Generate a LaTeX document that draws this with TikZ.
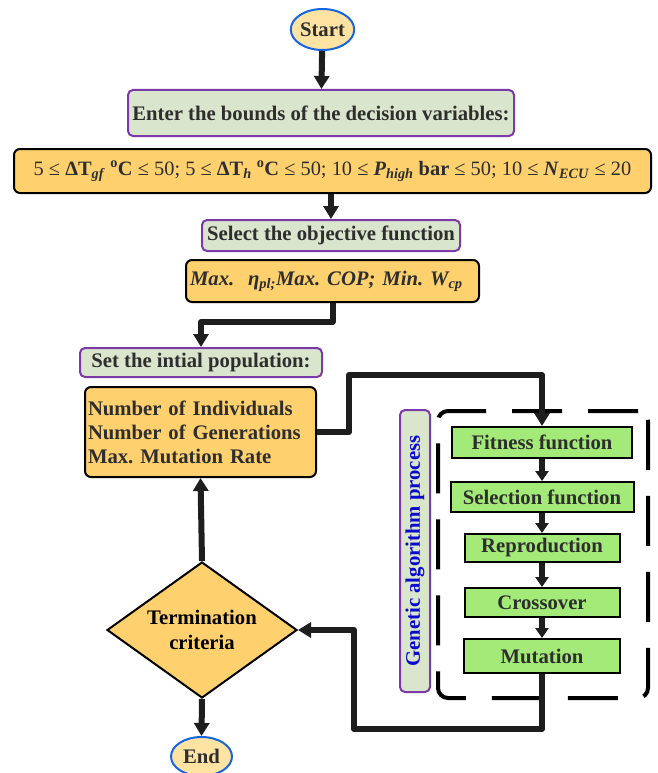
\documentclass[tikz,border=0pt]{standalone}
\usepackage{fontspec}
\setmainfont{Liberation Serif}
\usetikzlibrary{arrows.meta,shapes.geometric}
\definecolor{txt}{HTML}{2E2E2E}
\definecolor{termblue}{HTML}{1466E0}
\definecolor{termfill}{HTML}{FFE3A3}
\definecolor{hdrpurple}{HTML}{7A3BA6}
\definecolor{hdrgreen}{HTML}{D9E5CD}
\definecolor{orangefill}{HTML}{FFD06E}
\definecolor{gafill}{HTML}{A3EA78}
\definecolor{gablue}{HTML}{0A0ACC}
\definecolor{linecol}{HTML}{1E1E1E}
\newcommand{\fsz}{\fontsize{20.7}{24}\selectfont\frenchspacing}
\tikzset{
  base/.style={font=\fsz\bfseries, text=txt, inner sep=0pt, align=center},
  term/.style={base, ellipse, draw=termblue, line width=2pt, fill=termfill},
  hdr/.style={base, draw=hdrpurple, line width=2pt, fill=hdrgreen, rounded corners=5pt},
  obox/.style={base, draw=black, line width=2pt, fill=orangefill, rounded corners=6pt},
  gbox/.style={base, draw=black, line width=2pt, fill=gafill},
  conn/.style={draw=linecol, line width=6pt, line join=round, -{Triangle[width=15pt,length=13pt]}},
  sconn/.style={draw=linecol, line width=5.5pt, -{Triangle[width=13pt,length=10pt]}},
  gaframe/.style={draw=black, line width=4pt, dash pattern=on 50pt off 26pt, rounded corners=10pt},
}
\begin{document}
\begin{tikzpicture}[x=1pt,y=-1pt]
\useasboundingbox (0,0) rectangle (657,773);
% top part
\node[term, minimum width=63pt, minimum height=41pt] (start) at (322.5,29.5) {Start};
\node[hdr, minimum width=386pt, minimum height=46pt] (enter) at (321,113) {Enter the bounds of the decision variables:};
\node[obox, font=\fontsize{20.4}{24}\selectfont\frenchspacing\mdseries, minimum width=637pt, minimum height=44pt] (bounds) at (332.5,171)
  {5 ≤ \textbf{ΔT}\textsubscript{\textbf{\textit{gf}}} \textbf{\textsuperscript{o}C} ≤ 50; 5 ≤ \textbf{ΔT}\textsubscript{\textbf{\textit{h}}} \textbf{\textsuperscript{o}C} ≤ 50; 10 ≤ \textbf{\textit{P}}\textsubscript{\textbf{\textit{high}}} \textbf{bar} ≤ 50; 10 ≤ \textbf{\textit{N}}\textsubscript{\textbf{\textit{ECU}}} ≤ 20};
\node[hdr, minimum width=258pt, minimum height=31pt] (select) at (331,235.5) {Select the objective function};
\node[obox, minimum width=293pt, minimum height=42pt, text width=285pt, align=left] (max) at (332.5,281)
  {\textit{Max.\ \ η\textsubscript{pl;}Max. COP; Min. W\textsubscript{cp}}};
\node[hdr, minimum width=242pt, minimum height=29pt] (set) at (201,362.5) {Set the intial population:};
\node[obox, minimum width=231pt, minimum height=90pt, text width=225pt, align=left] (num) at (200.5,432)
  {Number of Individuals\\Number of Generations\\Max. Mutation Rate};
\node[obox, diamond, rounded corners=0pt, text=black, minimum width=190pt, minimum height=136pt, aspect=1.4, font=\fontsize{20.7}{25}\selectfont\bfseries] (dia) at (202,630) {Termination\\criteria};
\node[term, minimum width=61pt, minimum height=39pt] (end) at (201.5,756.5) {End};
% GA part
\node[gaframe, minimum width=210pt, minimum height=287pt] (frame) at (543,554.5) {};
\node[hdr, text=gablue, rotate=90, minimum width=282pt, minimum height=30pt] (label) at (415,551) {Genetic algorithm process};
\node[gbox, minimum width=180pt, minimum height=31pt] (fit) at (542,442.5) {Fitness function};
\node[gbox, minimum width=183pt, minimum height=30pt] (sel) at (542,497) {Selection function};
\node[gbox, minimum width=155pt, minimum height=28pt] (rep) at (542,548) {Reproduction};
\node[gbox, minimum width=155pt, minimum height=29pt] (cro) at (542,602.5) {Crossover};
\node[gbox, minimum width=156pt, minimum height=34pt] (mut) at (542,656) {Mutation};
% helper coordinates
\coordinate (c1) at (349,375);
\coordinate (c2) at (354,729);
\coordinate (c3) at (260,322);
% connectors
\draw[conn] (start) -- (enter);
\draw[conn] (bounds.south -| select.north) -- (select.north);
\draw[conn] (max.south) |- (c3) -| (set.north);
\draw[conn] (num.east) -| (c1) -| (fit.north);
\draw[conn] (dia.north) -- (num.south);
\draw[conn] (dia.south) -- (end.north);
\draw[conn] (mut.south) |- (c2) |- (dia.east);
\draw[sconn] (fit) -- (sel);
\draw[sconn] (sel) -- (rep);
\draw[sconn] (rep) -- (cro);
\draw[sconn] (cro) -- (mut);
\end{tikzpicture}
\end{document}
